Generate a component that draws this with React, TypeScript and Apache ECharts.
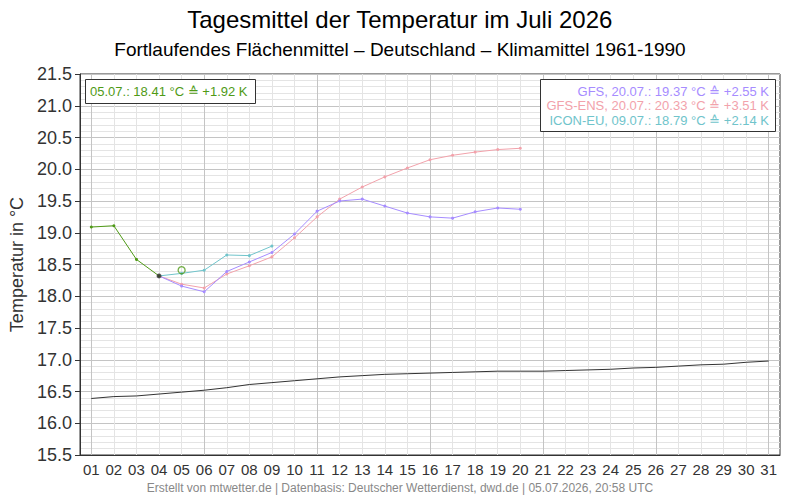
import React, { useEffect, useRef } from "react";
import * as echarts from "echarts";

// Days of July shown on the x axis
const dayTicks: number[] = Array.from({ length: 31 }, (_, i) => i + 1);

// Climate mean 1961-1990, days 1..31
const climateValues = [
  16.39, 16.42, 16.43, 16.46, 16.49, 16.52, 16.56, 16.61, 16.64, 16.67,
  16.70, 16.73, 16.75, 16.77, 16.78, 16.79, 16.80, 16.81, 16.82, 16.82,
  16.82, 16.83, 16.84, 16.85, 16.87, 16.88, 16.90, 16.92, 16.93, 16.96, 16.98,
];

// Observed running area mean
const observedDays = [1, 2, 3, 4];
const observedValues = [19.09, 19.11, 18.58, 18.32];

// Today's provisional value (hollow marker)
const todayDay = 5;
const todayValue = 18.41;

// Model forecasts, starting from the last observed day
const gfsDays = [4, 5, 6, 7, 8, 9, 10, 11, 12, 13, 14, 15, 16, 17, 18, 19, 20];
const gfsValues = [18.32, 18.16, 18.07, 18.39, 18.54, 18.69, 18.98, 19.34, 19.50, 19.53, 19.42, 19.31, 19.25, 19.23, 19.33, 19.39, 19.37];

const ensDays = [4, 5, 6, 7, 8, 9, 10, 11, 12, 13, 14, 15, 16, 17, 18, 19, 20];
const ensValues = [18.32, 18.19, 18.13, 18.35, 18.48, 18.62, 18.92, 19.25, 19.53, 19.72, 19.88, 20.02, 20.15, 20.22, 20.27, 20.31, 20.33];

const iconDays = [4, 5, 6, 7, 8, 9];
const iconValues = [18.32, 18.36, 18.41, 18.65, 18.64, 18.79];

const FONT = "'Liberation Sans', Arial, sans-serif";
const GREEN = "#4f9a16";
const PURPLE = "#a68cff";
const PINK = "#f2a2ab";
const TEAL = "#70c4cb";
const MAJOR = "#c4c4c4";
const MINOR = "#e4e4e4";

const pairs = (xs: number[], ys: number[]) => xs.map((x, i) => [x, ys[i]]);

export default function App() {
  const ref = useRef<HTMLDivElement>(null);

  useEffect(() => {
    if (!ref.current) return;
    const chart = echarts.init(ref.current, null, { renderer: "svg" });

    const forecastLine = (name: string, color: string, data: number[][]) => ({
      name,
      type: "line",
      data,
      symbol: "circle",
      symbolSize: 3,
      showSymbol: true,
      lineStyle: { color, width: 1 },
      itemStyle: { color },
      z: 3,
    });

    const legendText = (y: number, text: string, color: string) => ({
      type: "text",
      x: 769,
      y,
      style: {
        text,
        fontSize: 13,
        fill: color,
        fontFamily: FONT,
        align: "right",
        verticalAlign: "middle",
      },
      z: 11,
    });

    chart.setOption({
      animation: false,
      backgroundColor: "#ffffff",
      textStyle: { fontFamily: FONT },
      grid: {
        left: 80,
        right: 20,
        top: 74,
        bottom: 45,
        show: true,
        borderColor: "#333",
        borderWidth: 1,
        containLabel: false,
      },
      xAxis: {
        type: "value",
        min: 0.5,
        max: 31.5,
        axisLine: { show: true, lineStyle: { color: "#333" } },
        axisTick: { show: false, customValues: dayTicks },
        axisLabel: {
          customValues: dayTicks,
          formatter: (v: number) => String(Math.round(v)).padStart(2, "0"),
          fontSize: 15,
          color: "#333",
          margin: 7,
          fontFamily: FONT,
        },
        splitLine: {
          show: true,
          lineStyle: { color: [MAJOR, MINOR, MINOR, MINOR, MINOR], width: 1 },
        },
      },
      yAxis: {
        type: "value",
        min: 15.5,
        max: 21.5,
        interval: 0.5,
        name: "Temperatur in °C",
        nameLocation: "middle",
        nameGap: 50,
        nameTextStyle: { fontSize: 18, color: "#333", fontFamily: FONT },
        axisLine: { show: true, lineStyle: { color: "#333" } },
        axisTick: { show: true, length: 5, lineStyle: { color: "#333" } },
        axisLabel: {
          formatter: (v: number) => v.toFixed(1),
          fontSize: 18,
          color: "#333",
          margin: 8,
          fontFamily: FONT,
        },
        splitLine: { show: true, lineStyle: { color: MAJOR, width: 1 } },
        minorTick: { show: false, splitNumber: 5 },
        minorSplitLine: { show: true, lineStyle: { color: MINOR, width: 1 } },
      },
      series: [
        {
          name: "Klimamittel",
          type: "line",
          data: pairs(dayTicks, climateValues),
          showSymbol: false,
          symbol: "none",
          lineStyle: { color: "#333", width: 1 },
          z: 2,
        },
        forecastLine("GFS-ENS", PINK, pairs(ensDays, ensValues)),
        forecastLine("ICON-EU", TEAL, pairs(iconDays, iconValues)),
        forecastLine("GFS", PURPLE, pairs(gfsDays, gfsValues)),
        {
          name: "Beobachtet",
          type: "line",
          data: pairs(observedDays, observedValues),
          symbol: "circle",
          symbolSize: 3,
          showSymbol: true,
          lineStyle: { color: GREEN, width: 1 },
          itemStyle: { color: GREEN },
          z: 4,
        },
        {
          name: "Letzter Wert",
          type: "scatter",
          data: [[observedDays[observedDays.length - 1], observedValues[observedValues.length - 1]]],
          symbol: "circle",
          symbolSize: 5,
          itemStyle: { color: "#333" },
          z: 5,
        },
        {
          name: "Heute",
          type: "scatter",
          data: [[todayDay, todayValue]],
          symbol: "circle",
          symbolSize: 7,
          itemStyle: { color: "rgba(255,255,255,0)", borderColor: GREEN, borderWidth: 1.3 },
          z: 5,
        },
      ],
      graphic: [
        {
          type: "text",
          left: "center",
          top: 7,
          style: { text: "Tagesmittel der Temperatur im Juli 2026", fontSize: 24, fill: "#000", fontFamily: FONT },
        },
        {
          type: "text",
          left: "center",
          top: 40,
          style: {
            text: "Fortlaufendes Flächenmittel – Deutschland – Klimamittel 1961-1990",
            fontSize: 19,
            fill: "#000",
            fontFamily: FONT,
          },
        },
        {
          type: "text",
          left: "center",
          top: 482,
          style: {
            text: "Erstellt von mtwetter.de | Datenbasis: Deutscher Wetterdienst, dwd.de | 05.07.2026, 20:58 UTC",
            fontSize: 12,
            fill: "#888",
            fontFamily: FONT,
          },
        },
        {
          type: "rect",
          shape: { x: 85.5, y: 79.5, width: 170, height: 24 },
          style: { fill: "#fff", stroke: "#333", lineWidth: 1 },
          z: 10,
        },
        {
          type: "text",
          x: 90,
          y: 91.5,
          style: {
            text: `05.07.: ${todayValue.toFixed(2)} °C ≙ +1.92 K`,
            fontSize: 13,
            fill: GREEN,
            fontFamily: FONT,
            verticalAlign: "middle",
            align: "left",
          },
          z: 11,
        },
        {
          type: "rect",
          shape: { x: 540.5, y: 79.5, width: 235, height: 52 },
          style: { fill: "#fff", stroke: "#333", lineWidth: 1 },
          z: 10,
        },
        legendText(91, `GFS, 20.07.: ${gfsValues[gfsValues.length - 1].toFixed(2)} °C ≙ +2.55 K`, PURPLE),
        legendText(105.5, `GFS-ENS, 20.07.: ${ensValues[ensValues.length - 1].toFixed(2)} °C ≙ +3.51 K`, PINK),
        legendText(120, `ICON-EU, 09.07.: ${iconValues[iconValues.length - 1].toFixed(2)} °C ≙ +2.14 K`, TEAL),
      ],
    });

    return () => chart.dispose();
  }, []);

  return (
    <div
      ref={ref}
      style={{ position: "fixed", left: 0, top: 0, width: 800, height: 500, background: "#fff" }}
    />
  );
}
